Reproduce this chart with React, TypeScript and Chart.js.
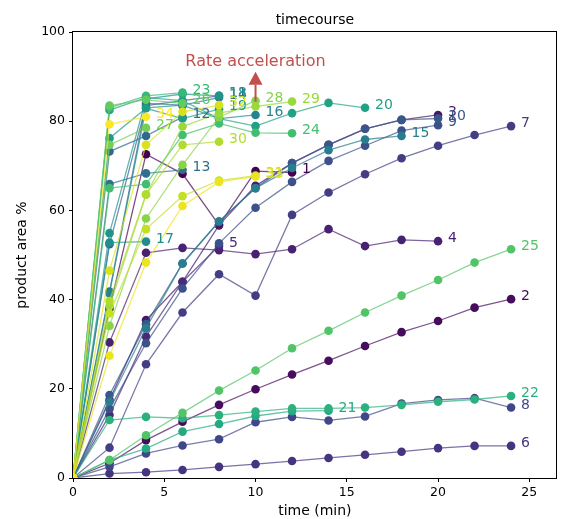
import React, { useEffect, useRef } from 'react';
import { Chart, registerables } from 'chart.js';
Chart.register(...registerables);

const times = [0, 2, 4, 6, 8, 10, 12, 14, 16, 18, 20, 22, 24];
const xTicks = [0, 5, 10, 15, 20, 25];
const yTicks = [0, 20, 40, 60, 80, 100];

const s1 = [0, 38.0, 72.6, 68.2, 56.7, 68.8, 68.5];
const s2 = [0, 3.3, 8.5, 12.6, 16.4, 19.9, 23.2, 26.3, 29.6, 32.7, 35.2, 38.2, 40.1];
const s3 = [0, 17.5, 35.4, 44.0, 56.7, 65.5, 70.6, 74.7, 78.3, 80.3, 81.4];
const s4 = [0, 30.4, 50.5, 51.6, 51.1, 50.2, 51.3, 55.8, 52.0, 53.4, 53.1];
const s5 = [0, 14.1, 31.7, 44.0, 52.0];
const s6 = [0, 1.0, 1.3, 1.8, 2.5, 3.1, 3.8, 4.5, 5.2, 5.9, 6.7, 7.2, 7.2];
const s7 = [0, 6.8, 25.5, 37.1, 45.7, 40.9, 59.0, 64.0, 68.1, 71.7, 74.5, 76.9, 78.9];
const s8 = [0, 2.5, 5.5, 7.3, 8.7, 12.5, 13.7, 12.9, 13.8, 16.7, 17.5, 17.9, 15.8];
const s9 = [0, 15.5, 30.2, 42.5, 52.6, 60.6, 66.4, 71.1, 74.5, 77.9, 79.1];
const s10 = [0, 18.6, 34.5, 48.1, 57.5, 65.0, 70.6, 74.7, 78.3, 80.3, 80.6];
const s11 = [0, 52.4, 83.5, 84.6, 85.7];
const s12 = [0, 73.2, 76.7, 80.9];
const s13 = [0, 65.9, 68.3, 69.1];
const s14 = [0, 41.8, 84.0, 83.6, 85.3];
const s15 = [0, 17.1, 33.6, 48.1, 57.5, 65.0, 69.5, 73.5, 75.9, 76.7];
const s16 = [0, 41.4, 83.0, 83.6, 80.6, 81.4];
const s17 = [0, 52.8, 53.0];
const s18 = [0, 54.9, 85.0, 86.1, 85.7];
const s19 = [0, 76.2, 82.9, 80.6, 82.7];
const s20 = [0, 82.5, 85.3, 84.6, 80.6, 78.9, 81.8, 84.1, 83.0];
const s21 = [0, 4.0, 6.6, 10.4, 12.1, 13.9, 15.0, 15.1];
const s22 = [0, 13.0, 13.7, 13.4, 14.1, 14.9, 15.6, 15.6, 15.8, 16.4, 17.1, 17.6, 18.4];
const s23 = [0, 83.0, 85.7, 86.4];
const s24 = [0, 65.0, 65.9, 76.9, 79.5, 77.4, 77.3];
const s25 = [0, 4.0, 9.6, 14.6, 19.6, 24.1, 29.1, 33.0, 37.1, 40.9, 44.4, 48.3, 51.3];
const s26 = [0, 83.5, 84.8, 84.0];
const s27 = [0, 74.7, 78.5];
const s28 = [0, 34.1, 58.2, 70.2, 80.9, 84.6];
const s29 = [0, 38.5, 63.5, 78.8, 81.8, 83.3, 84.4];
const s30 = [0, 39.7, 63.6, 74.7, 75.4];
const s31 = [0, 36.9, 55.8, 63.2, 66.7, 67.8];
const s32 = [0, 46.5, 74.7, 82.1, 83.6];
const s33 = [0, 27.4, 48.3, 61.0, 66.4, 67.6];
const s34 = [0, 79.3, 81.0];

const seriesValues = [s1, s2, s3, s4, s5, s6, s7, s8, s9, s10, s11, s12, s13, s14, s15, s16, s17,
  s18, s19, s20, s21, s22, s23, s24, s25, s26, s27, s28, s29, s30, s31, s32, s33, s34];
const seriesNames = seriesValues.map((_, i) => String(i + 1));

const annotationText = 'Rate acceleration';
const annotationX = 10;
const annotationFrom = 84.4;
const annotationTo = 91.1;

const VIRIDIS = ['#440154', '#471365', '#482475', '#463480', '#414487', '#3b528b', '#355f8d',
  '#2f6c8e', '#2a788e', '#25848e', '#21918c', '#1e9c89', '#22a884', '#2fb47c', '#44bf70',
  '#5ec962', '#7ad151', '#9bd93c', '#bddf26', '#dfe318', '#fde725'];

function hexToRgb(h: string) {
  return [parseInt(h.slice(1, 3), 16), parseInt(h.slice(3, 5), 16), parseInt(h.slice(5, 7), 16)];
}
function viridis(t: number): number[] {
  const n = VIRIDIS.length - 1;
  const p = Math.max(0, Math.min(1, t)) * n;
  const i = Math.min(n - 1, Math.floor(p));
  const f = p - i;
  const a = hexToRgb(VIRIDIS[i]);
  const b = hexToRgb(VIRIDIS[i + 1]);
  return [0, 1, 2].map(k => Math.round(a[k] + (b[k] - a[k]) * f));
}
const N = seriesValues.length;
const rgbs = seriesValues.map((_, i) => viridis(i / (N - 1)));
const solid = rgbs.map(c => `rgb(${c[0]},${c[1]},${c[2]})`);
const faded = rgbs.map(c => `rgba(${c[0]},${c[1]},${c[2]},0.7)`);

const FONT = '"DejaVu Sans", "Liberation Sans", sans-serif';
const RED = '#c1504c';

const overlay = {
  id: 'overlay',
  afterDatasetsDraw(chart: any) {
    const { ctx, chartArea, scales } = chart;
    const xs = scales.x, ys = scales.y;
    ctx.save();
    // series end labels
    ctx.font = `14px ${FONT}`;
    ctx.textAlign = 'left';
    ctx.textBaseline = 'alphabetic';
    seriesValues.forEach((vals, i) => {
      const last = vals.length - 1;
      const px = xs.getPixelForValue(times[last]);
      const py = ys.getPixelForValue(vals[last]);
      ctx.fillStyle = solid[i];
      ctx.fillText(seriesNames[i], px + 10, py + 1);
    });
    // annotation arrow
    const ax = xs.getPixelForValue(annotationX);
    const y0 = ys.getPixelForValue(annotationFrom);
    const y1 = ys.getPixelForValue(annotationTo);
    const headLen = 13, headW = 7;
    ctx.strokeStyle = RED;
    ctx.fillStyle = RED;
    ctx.lineWidth = 2;
    ctx.beginPath();
    ctx.moveTo(ax, y0);
    ctx.lineTo(ax, y1 + headLen);
    ctx.stroke();
    ctx.beginPath();
    ctx.moveTo(ax, y1);
    ctx.lineTo(ax - headW, y1 + headLen);
    ctx.lineTo(ax + headW, y1 + headLen);
    ctx.closePath();
    ctx.fill();
    ctx.font = `16px ${FONT}`;
    ctx.textAlign = 'center';
    ctx.textBaseline = 'alphabetic';
    ctx.fillText(annotationText, ax, y1 - 6);
    // frame
    ctx.strokeStyle = '#000';
    ctx.lineWidth = 1;
    const l = Math.round(chartArea.left) - 0.5, t = Math.round(chartArea.top) - 0.5;
    const r = Math.round(chartArea.right) - 0.5, b = Math.round(chartArea.bottom) + 0.5;
    ctx.strokeRect(l, t, r - l, b - t);
    // titles
    ctx.fillStyle = '#000';
    ctx.font = `14px ${FONT}`;
    ctx.textAlign = 'center';
    ctx.textBaseline = 'middle';
    const cx = (chartArea.left + chartArea.right) / 2;
    ctx.fillText('timecourse', cx, 20);
    ctx.fillText('time (min)', cx, 511);
    ctx.translate(22, (chartArea.top + chartArea.bottom) / 2);
    ctx.rotate(-Math.PI / 2);
    ctx.fillText('product area %', 0, 0);
    ctx.restore();
  },
};

export default function App() {
  const ref = useRef<HTMLCanvasElement>(null);
  useEffect(() => {
    document.body.style.margin = '0';
    const datasets = seriesValues.map((vals, i) => ({
      label: seriesNames[i],
      data: vals.map((v, j) => ({ x: times[j], y: v })),
      borderColor: faded[i],
      backgroundColor: solid[i],
      pointBackgroundColor: solid[i],
      pointBorderColor: solid[i],
      pointBorderWidth: 0,
      pointRadius: 4.3,
      borderWidth: 1.3,
      tension: 0,
      fill: false,
      clip: 0,
      order: N - i,
    }));
    const chart = new Chart(ref.current as HTMLCanvasElement, {
      type: 'line',
      data: { datasets },
      options: {
        animation: false,
        responsive: false,
        layout: { padding: { top: 32, right: 1, left: 0, bottom: 0 } },
        plugins: { legend: { display: false }, tooltip: { enabled: false }, title: { display: false } },
        scales: {
          x: {
            type: 'linear',
            min: 0,
            max: 26.5,
            afterBuildTicks: (s: any) => { s.ticks = xTicks.map(v => ({ value: v })); },
            afterFit: (s: any) => { s.height = 41; },
            ticks: { color: '#000', font: { family: FONT, size: 12.5 }, padding: 3, maxRotation: 0 },
            grid: { display: true, drawOnChartArea: false, drawTicks: true, tickLength: 4, tickColor: '#000', tickWidth: 1 },
            border: { display: false },
          },
          y: {
            type: 'linear',
            min: 0,
            max: 100,
            afterBuildTicks: (s: any) => { s.ticks = yTicks.map(v => ({ value: v })); },
            afterFit: (s: any) => { s.width = 73; },
            ticks: { color: '#000', font: { family: FONT, size: 12.5 }, padding: 4 },
            grid: { display: true, drawOnChartArea: false, drawTicks: true, tickLength: 4, tickColor: '#000', tickWidth: 1 },
            border: { display: false },
          },
        },
      },
      plugins: [overlay],
    } as any);
    return () => chart.destroy();
  }, []);
  return (
    <div style={{ position: 'absolute', left: 0, top: 0, width: 561, height: 519, background: '#fff' }}>
      <canvas ref={ref} width={561} height={519} style={{ width: 561, height: 519, display: 'block' }} />
    </div>
  );
}
